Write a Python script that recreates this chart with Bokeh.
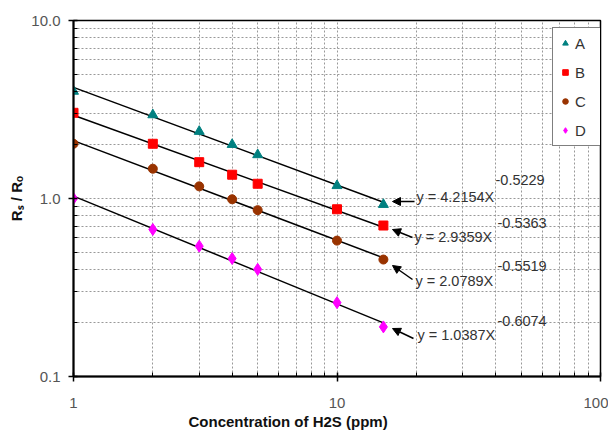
import numpy as np
from bokeh.plotting import figure
from bokeh.models import (FixedTicker, CustomJSTickFormatter, Legend, LegendItem,
                          Label, Arrow, NormalHead, Title)
from bokeh.embed import file_html
from bokeh.resources import INLINE

# ---- data ----
conc = [1, 2, 3, 4, 5, 10, 15]
sensor_a = [4.0, 2.95, 2.38, 2.01, 1.76, 1.18, 0.925]
sensor_b = [3.03, 2.03, 1.60, 1.36, 1.21, 0.87, 0.705]
sensor_c = [2.03, 1.47, 1.17, 0.99, 0.86, 0.58, 0.454]
sensor_d = [1.0, 0.67, 0.54, 0.46, 0.40, 0.26, 0.19]
series_names = ["A", "B", "C", "D"]
fit_coef = ["4.2154", "2.9359", "2.0789", "1.0387"]
fit_exp = ["-0.5229", "-0.5363", "-0.5519", "-0.6074"]
x_major = [1, 10, 100]
y_major = [0.1, 1, 10]

# ---- layout ----
W, H = 608, 437
L, R, T, B = 73, 8, 20, 61
FW, FH = W - L - R, H - T - B
X0, X1, Y0, Y1 = 1, 100, 0.1, 10
PXX = FW / np.log10(X1 / X0)
PXY = FH / np.log10(Y1 / Y0)

def dx(px):
    return X0 * 10 ** ((px - L) / PXX)

def dy(py):
    return Y0 * 10 ** ((T + FH - py) / PXY)

FONT = "Liberation Sans"

p = figure(width=W, height=H, x_axis_type="log", y_axis_type="log",
           x_range=(X0, X1), y_range=(Y0, Y1), output_backend="svg",
           toolbar_location=None, min_border_left=L, min_border_right=R,
           min_border_top=T, min_border_bottom=B)
p.background_fill_color = "white"
p.border_fill_color = "white"
p.outline_line_color = "black"
p.outline_line_width = 1.5

def minors(majors):
    out = []
    for m in majors[:-1]:
        out += [m * k for k in range(2, 10)]
    return out

p.xaxis.ticker = FixedTicker(ticks=x_major, minor_ticks=minors(x_major))
p.yaxis.ticker = FixedTicker(ticks=y_major, minor_ticks=minors(y_major))
p.xaxis.formatter = CustomJSTickFormatter(code="return tick.toFixed(0);")
p.yaxis.formatter = CustomJSTickFormatter(code="return tick.toFixed(1);")

for ax in (p.xaxis, p.yaxis):
    ax.axis_line_color = "black"
    ax.axis_line_width = 2
    ax.major_tick_line_color = "black"
    ax.major_tick_line_width = 1.5
    ax.major_tick_in = 4
    ax.major_tick_out = 5
    ax.minor_tick_line_color = "black"
    ax.minor_tick_in = 4
    ax.minor_tick_out = 0
    ax.major_label_text_font = FONT
    ax.major_label_text_font_size = "15px"
    ax.major_label_text_color = "#555555"
    ax.axis_label_text_font = FONT
    ax.axis_label_text_font_size = "15px"
    ax.axis_label_text_font_style = "bold"
    ax.axis_label_text_color = "#111111"

p.yaxis.axis_label = "Rₛ / Rₒ"
p.xaxis.major_label_standoff = 16
p.yaxis.major_label_standoff = 8
p.yaxis.axis_label_standoff = 3

# x axis title sits left of centre in the reference
p.add_layout(Title(text="Concentration of H2S (ppm)", align="left", offset=115,
                   text_font=FONT, text_font_size="15px", text_font_style="bold",
                   text_color="#111111", standoff=0), "below")

for g in (p.xgrid, p.ygrid):
    g.grid_line_color = "#999999"
    g.grid_line_dash = "2 2"
    g.grid_line_width = 1
    g.minor_grid_line_color = "#999999"
    g.minor_grid_line_dash = "2 2"
    g.minor_grid_line_width = 1

all_series = [sensor_a, sensor_b, sensor_c, sensor_d]
markers = ["triangle", "square", "circle", "diamond"]
colors = ["#008080", "#FF0000", "#993300", "#FF00FF"]
sizes = [10, 9, 9, 12]

# power-law trend lines fitted to the read points
xs_fit = np.array([conc[0], conc[-1]], dtype=float)
for ys in all_series:
    b, loga = np.polyfit(np.log10(conc), np.log10(ys), 1)
    p.line(xs_fit, 10 ** loga * xs_fit ** b, line_color="black", line_width=1.5)

items = []
for name, ys, mk, col, sz in zip(series_names, all_series, markers, colors, sizes):
    r = p.scatter(conc, ys, marker=mk, size=sz, fill_color=col, line_color=col)
    items.append(LegendItem(label=name, renderers=[r]))

legend = Legend(items=items, location=(479, 230), orientation="vertical",
                border_line_color="black", border_line_width=1.2,
                background_fill_color="white", background_fill_alpha=1,
                padding=5, spacing=9, label_height=20, glyph_height=14,
                glyph_width=14, label_standoff=3, margin=0,
                label_text_font=FONT, label_text_font_size="15px",
                label_text_color="#333333")
p.add_layout(legend)

# annotation placements (pixel positions on the page)
arrow_tail = [(414, 201), (412, 237), (412, 279), (413, 338)]
arrow_tip = [(392, 201), (392, 229), (392, 265), (392, 328)]
text_pos = [(416, 196), (414, 236), (415, 280), (417, 334)]
exp_pos = [(495, 179), (497, 222), (497, 265), (497, 320)]

for i in range(4):
    (tx, ty), (hx, hy) = arrow_tail[i], arrow_tip[i]
    p.add_layout(Arrow(end=NormalHead(size=8, fill_color="black", line_color="black"),
                       x_start=dx(tx), y_start=dy(ty), x_end=dx(hx), y_end=dy(hy),
                       line_color="black", line_width=1.5))
    lx, ly = text_pos[i]
    p.add_layout(Label(x=dx(lx), y=dy(ly), text=f"y = {fit_coef[i]}X",
                       text_font=FONT, text_font_size="14.5px", text_color="#333333",
                       text_baseline="middle", text_align="left"))
    ex, ey = exp_pos[i]
    p.add_layout(Label(x=dx(ex), y=dy(ey), text=fit_exp[i],
                       text_font=FONT, text_font_size="14.5px", text_color="#333333",
                       text_baseline="middle", text_align="left"))

open("out.html", "w").write(file_html(p, INLINE))
